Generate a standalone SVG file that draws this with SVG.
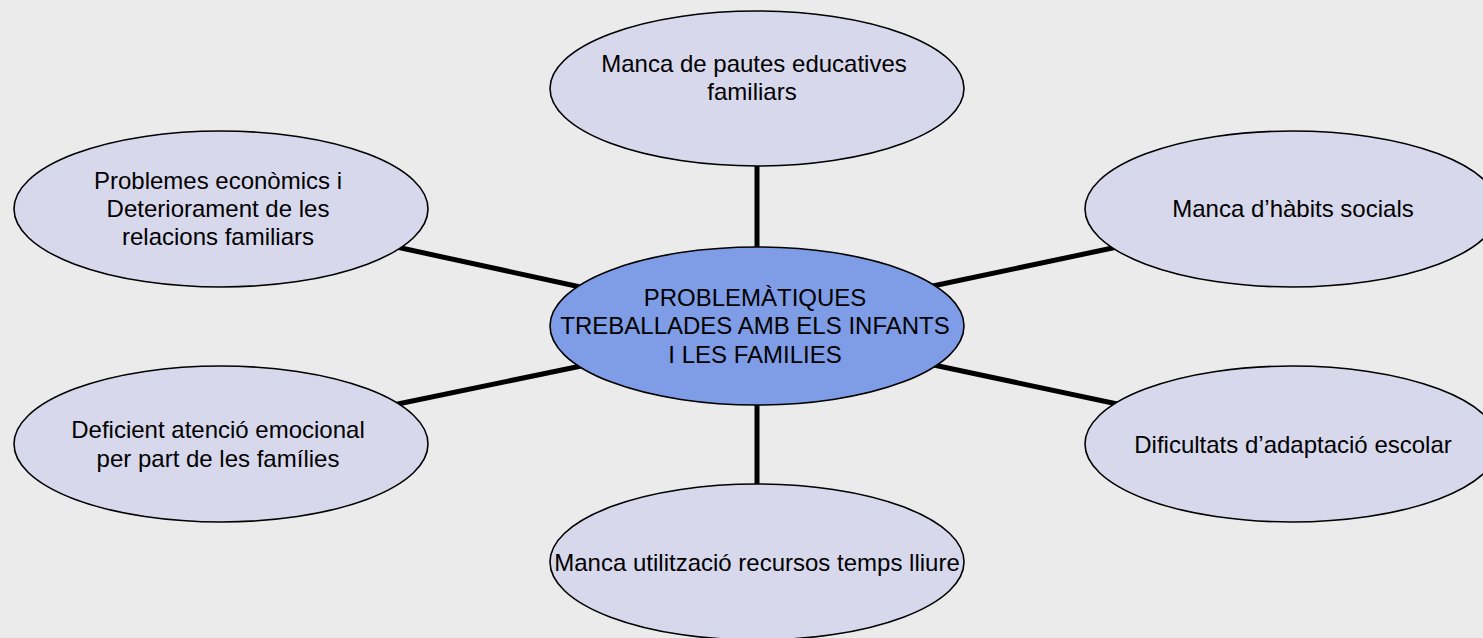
<svg xmlns="http://www.w3.org/2000/svg" width="1483" height="638" viewBox="0 0 1483 638">
<style>
.bg{fill:#ebebeb}
.node{fill:#d8d8ec;stroke:#000;stroke-width:1.6}
.hub{fill:#7e9de6;stroke:#000;stroke-width:1.6}
.conn{stroke:#000;stroke-width:5;fill:none}
text{font-family:"Liberation Sans",Arial,Helvetica,sans-serif;font-size:24px;fill:#000;text-anchor:middle}
</style>
<rect class="bg" x="0" y="0" width="1483" height="638"/>
<g id="connectors">
<line class="conn" x1="757" y1="160" x2="757" y2="255"/>
<line class="conn" x1="757" y1="398" x2="757" y2="490"/>
<line class="conn" x1="392" y1="246" x2="585" y2="288"/>
<line class="conn" x1="393" y1="405" x2="586" y2="365"/>
<line class="conn" x1="928" y1="287" x2="1122" y2="246"/>
<line class="conn" x1="929" y1="364" x2="1122" y2="405"/>
</g>
<g id="n-top">
<ellipse class="node" cx="757" cy="88.5" rx="207" ry="77.5"/>
<text x="754" y="72">Manca de pautes educatives</text>
<text x="752" y="100">familiars</text>
</g>
<g id="n-lefttop">
<ellipse class="node" cx="221" cy="209" rx="207" ry="78"/>
<text x="218" y="189">Problemes econòmics i</text>
<text x="218" y="217">Deteriorament de les</text>
<text x="218" y="245">relacions familiars</text>
</g>
<g id="n-righttop">
<ellipse class="node" cx="1292" cy="209" rx="207" ry="78"/>
<text x="1293" y="217">Manca d’hàbits socials</text>
</g>
<g id="n-leftbottom">
<ellipse class="node" cx="221" cy="444" rx="207" ry="78"/>
<text x="218" y="438">Deficient atenció emocional</text>
<text x="218" y="467">per part de les famílies</text>
</g>
<g id="n-rightbottom">
<ellipse class="node" cx="1292" cy="444" rx="207" ry="78"/>
<text x="1293" y="453">Dificultats d’adaptació escolar</text>
</g>
<g id="n-bottom">
<ellipse class="node" cx="757" cy="562" rx="207" ry="78"/>
<text x="757" y="571">Manca utilització recursos temps lliure</text>
</g>
<g id="n-center">
<ellipse class="hub" cx="757" cy="326" rx="207" ry="79"/>
<text x="755" y="306">PROBLEMÀTIQUES</text>
<text x="755" y="334">TREBALLADES AMB ELS INFANTS</text>
<text x="755" y="363">I LES FAMILIES</text>
</g>
</svg>
